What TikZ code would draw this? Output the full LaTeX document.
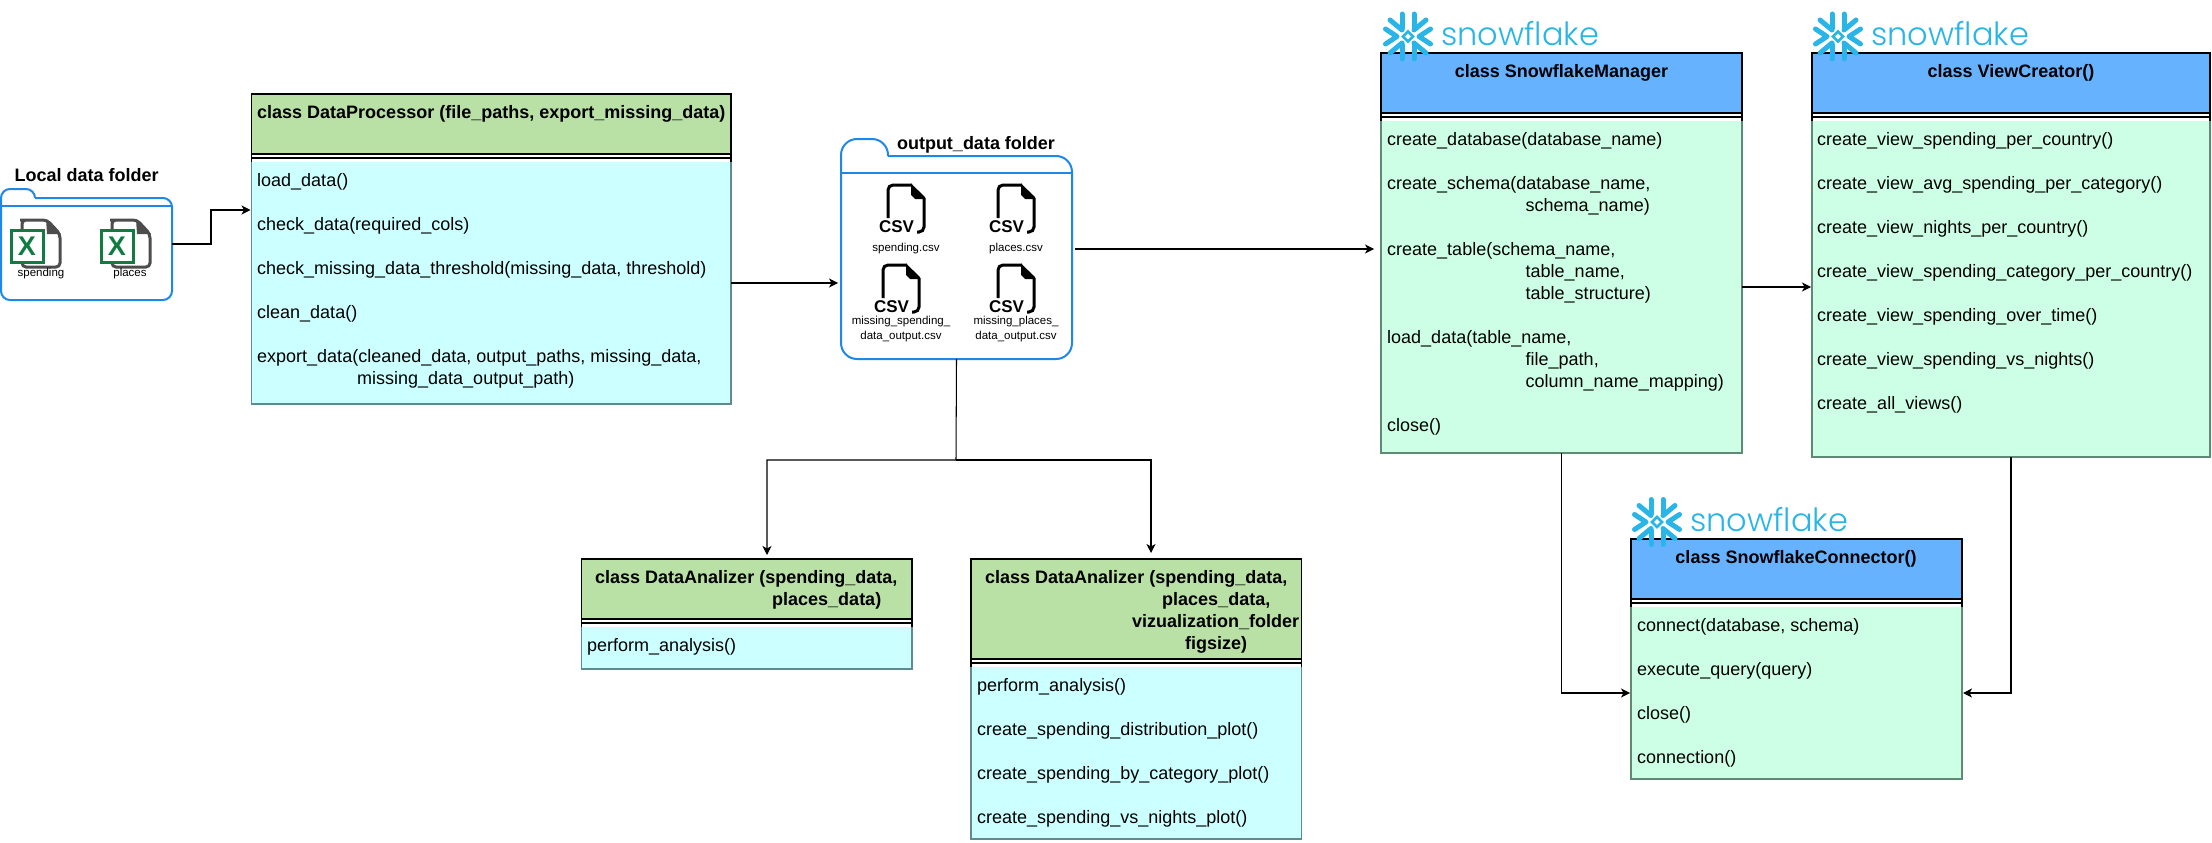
\documentclass[tikz,border=0pt]{standalone}
\usepackage{fontspec}
\setmainfont{Liberation Sans}
\newfontfamily\snowfont[UprightFont={* Light}]{Poppins}
\usetikzlibrary{arrows.meta}
\definecolor{hgreen}{HTML}{B9E0A5}
\definecolor{hblue}{HTML}{66B2FF}
\definecolor{bcyan}{HTML}{CCFFFF}
\definecolor{bmint}{HTML}{CCFFE6}
\definecolor{ecyan}{HTML}{5F8A8F}
\definecolor{emint}{HTML}{5F8A75}
\definecolor{foldblue}{HTML}{1E88E8}
\definecolor{snowblue}{HTML}{29B5E8}
\definecolor{xlgreen}{HTML}{107C41}
\definecolor{xlgray}{HTML}{4D4D4D}
\tikzset{
  x=1pt,y=-1pt,
  part/.style={rectangle,inner sep=0pt,outer sep=0pt,line width=1.2pt},
  meth/.style={font=\fontsize{18}{22}\selectfont,align=left,anchor=north west,inner sep=0pt},
  ttl/.style={font=\fontsize{18}{22}\selectfont\bfseries,align=left,anchor=north west,inner sep=0pt},
  ttlc/.style={font=\fontsize{18}{22}\selectfont\bfseries,anchor=north,inner sep=0pt},
  small/.style={font=\fontsize{11.5}{15}\selectfont,align=center,inner sep=0pt},
  conn/.style={draw=black,line width=1.05pt,-{Stealth[length=9pt,width=9pt,inset=2.5pt]}},
  folder/.style={draw=foldblue,line width=2pt},
  anchorbox/.style={rectangle,inner sep=0pt,outer sep=0pt},
  flake/.style={snowblue,line width=5pt,line cap=round},
}
% name, left, right, top, header bottom, bottom, header colour, body colour, edge colour
\newcommand\classbox[9]{%
  \node[part,draw=black,fill=#7,minimum width={(#3-#2)*1pt},minimum height={(#5-#4)*1pt}] (#1h) at ({(#2+#3)/2},{(#4+#5)/2}) {};
  \node[part,draw=black,fill=white,minimum width={(#3-#2)*1pt},minimum height=4pt] (#1s) at ({(#2+#3)/2},{#5+2}) {};
  \node[part,fill=#8,minimum width={(#3-#2)*1pt},minimum height={(#6-#5-8)*1pt}] (#1b) at ({(#2+#3)/2},{(#5+8+#6)/2}) {};
  \draw[black,line width=1.2pt] (#1s.south west) -- (#1b.north west) (#1s.south east) -- (#1b.north east);
  \draw[#9,line width=1.2pt] (#1b.north west) -- (#1b.south west) -- (#1b.south east) -- (#1b.north east);
}
\newcommand\snowlogo[3]{%
  \begin{scope}[shift={(#2,#3)}]
    \foreach \sx/\sy in {1/1,-1/1,1/-1,-1/-1}{
      \begin{scope}[xscale=\sx,yscale=\sy]
        \draw[flake] (6,-8) -- (6,-22.5);
        \draw[flake] (6,-6.5) -- (18,-16.5);
      \end{scope}
    }
    \foreach \sx in {1,-1}{
      \begin{scope}[xscale=\sx]
        \draw[flake,line join=round] (22.5,-7.5) -- (11,0) -- (22.5,7.5);
      \end{scope}
    }
    \draw[snowblue,line width=2.6pt] (0,-5) -- (5,0) -- (0,5) -- (-5,0) -- cycle;
  \end{scope}
  \node[anchor=base west,inner sep=0pt,text=snowblue,font=\snowfont\fontsize{32}{33}\selectfont] (#1) at ({#2+33},{#3+9.5}) {snowflake};
}
\newcommand\csvicon[3]{%
  \begin{scope}[shift={(#2,#3)}]
    \draw[black,line width=3pt,rounded corners=5pt] (0,33) -- (0,0) -- (24,0);
    \fill[black] (23,-1.5) -- (37,12) -- (37,14) -- (27,14) -- (23,10) -- cycle;
    \draw[black,line width=3pt,rounded corners=5pt] (36,13) -- (36,47) -- (29,47);
  \end{scope}
  \node[inner sep=0pt,font=\fontsize{17}{17}\selectfont\bfseries] (#1) at ({#2+8.5},{#3+42}) {CSV};
}
\newcommand\xlicon[3]{%
  \begin{scope}[shift={(#2,#3)}]
    \draw[xlgray,line width=3pt,rounded corners=4pt] (14,1) -- (37,1) -- (50,15) -- (50,48) -- (12,48) -- (12,1) -- cycle;
    \fill[xlgray] (36,0) -- (51,15) -- (37,15) -- cycle;
    \draw[xlgreen,fill=white,line width=3pt] (1,11) rectangle (33,43);
  \end{scope}
  \node[inner sep=0pt,text=xlgreen,font=\fontsize{27}{27}\selectfont\bfseries] (#1) at ({#2+17},{#3+27}) {X};
}
\begin{document}
\begin{tikzpicture}
\useasboundingbox (0,0) rectangle (2212,843);
% --- local data folder
\node[anchor=west,inner sep=0pt,font=\fontsize{18}{22}\selectfont\bfseries] (localt) at (14.5,175) {Local data folder};
\node[anchorbox,minimum width=171pt,minimum height=110pt] (localf) at (86.5,244) {};
\draw[folder,rounded corners=9pt] (35,198) -- (172,198) -- (172,300) -- (1,300) -- (1,189) -- (35,189) -- (35,198);
\draw[folder] (1,206) -- (172,206);
\xlicon{xl1}{10}{219}
\xlicon{xl2}{100}{219}
\node[small] (xl1l) at (41,274) {spending};
\node[small] (xl2l) at (130,274) {places};
% --- output folder
\node[anchorbox,minimum width=231pt,minimum height=220pt] (outf) at (956.5,249) {};
\draw[folder,rounded corners=16pt] (888,156) -- (1072,156) -- (1072,359) -- (841,359) -- (841,139) -- (888,139) -- (888,156);
\draw[folder] (841,173) -- (1072,173);
\node[inner sep=0pt,font=\fontsize{18}{22}\selectfont\bfseries] (outt) at (976,145) {output\_data folder};
\csvicon{csv1}{888}{185}
\csvicon{csv2}{998}{185}
\csvicon{csv3}{883}{265}
\csvicon{csv4}{998}{265}
\node[small] (csv1l) at (906,249) {spending.csv};
\node[small] (csv2l) at (1016,249) {places.csv};
\node[small] (csv3l) at (901,329.5) {missing\_spending\_\\data\_output.csv};
\node[small] (csv4l) at (1016,329.5) {missing\_places\_\\data\_output.csv};
% --- class boxes
\classbox{dp}{251.5}{731}{94}{154}{404}{hgreen}{bcyan}{ecyan}
\node[ttl] (dpt) at (257,105) {class DataProcessor (file\_paths, export\_missing\_data)};
\node[meth] (dpm) at (257,173) {load\_data()\\[22pt]
check\_data(required\_cols)\\[22pt]
check\_missing\_data\_threshold(missing\_data, threshold)\\[22pt]
clean\_data()\\[22pt]
export\_data(cleaned\_data, output\_paths, missing\_data,\\
\hspace*{100pt}missing\_data\_output\_path)};

\classbox{daa}{581.5}{912}{559}{619}{669}{hgreen}{bcyan}{ecyan}
\node[ttl] (daat) at (595,570) {class DataAnalizer (spending\_data,\\
\hspace*{177pt}places\_data)};
\node[meth] (daam) at (587,638) {perform\_analysis()};

\classbox{dab}{971}{1301.5}{559}{659}{839}{hgreen}{bcyan}{ecyan}
\node[ttl] (dabt) at (985,570) {class DataAnalizer (spending\_data,\\
\hspace*{177pt}places\_data,\\
\hspace*{147pt}vizualization\_folder\\
\hspace*{200pt}figsize)};
\node[meth] (dabm) at (977,678) {perform\_analysis()\\[22pt]
create\_spending\_distribution\_plot()\\[22pt]
create\_spending\_by\_category\_plot()\\[22pt]
create\_spending\_vs\_nights\_plot()};

\classbox{mgr}{1381}{1742}{53}{113}{453}{hblue}{bmint}{emint}
\node[ttlc] (mgrt) at (1561.5,64) {class SnowflakeManager};
\node[meth] (mgrm) at (1387,132) {create\_database(database\_name)\\[22pt]
create\_schema(database\_name,\\
\hspace*{138.5pt}schema\_name)\\[22pt]
create\_table(schema\_name,\\
\hspace*{138.5pt}table\_name,\\
\hspace*{138.5pt}table\_structure)\\[22pt]
load\_data(table\_name,\\
\hspace*{138.5pt}file\_path,\\
\hspace*{138.5pt}column\_name\_mapping)\\[22pt]
close()};

\classbox{vc}{1812}{2210}{53}{113}{457}{hblue}{bmint}{emint}
\node[ttlc] (vct) at (2011,64) {class ViewCreator()};
\node[meth] (vcm) at (1817,132) {create\_view\_spending\_per\_country()\\[22pt]
create\_view\_avg\_spending\_per\_category()\\[22pt]
create\_view\_nights\_per\_country()\\[22pt]
create\_view\_spending\_category\_per\_country()\\[22pt]
create\_view\_spending\_over\_time()\\[22pt]
create\_view\_spending\_vs\_nights()\\[22pt]
create\_all\_views()};

\classbox{con}{1631}{1962}{539}{599}{779}{hblue}{bmint}{emint}
\node[ttlc] (cont) at (1796,550) {class SnowflakeConnector()};
\node[meth] (conm) at (1637,618) {connect(database, schema)\\[22pt]
execute\_query(query)\\[22pt]
close()\\[22pt]
connection()};
% --- logos
\snowlogo{logoa}{1408}{36.5}
\snowlogo{logob}{1838}{36.5}
\snowlogo{logoc}{1657}{522}
% --- connectors
\coordinate (c1) at (211,210);
\draw[conn,shorten >=1pt] (localf.east) -| (c1) -- (dpb.west |- c1);
\draw[conn,shorten >=3pt] (dpb.east) -- (outf.west |- dpb.east);
\draw[conn,shorten <=3pt,shorten >=7pt] (outf.east) -- (mgrb.west |- outf.east);
\draw[conn,shorten >=1pt] (mgrb.east) -- (vcb.west |- mgrb.east);
\coordinate (j) at (956,460);
\coordinate (a1) at (767,460);
\coordinate (a2) at (1151,460);
\draw[conn,shorten >=4pt] (outf.south) -- (j) -- (a1) -- (a1 |- daah.north);
\draw[conn,shorten >=6pt] (j) -- (a2) -- (a2 |- dabh.north);
\draw[conn,shorten >=1pt] (mgrb.south) |- (conb.west);
\draw[conn,shorten >=1pt] (vcb.south) |- (conb.east);
\end{tikzpicture}
\end{document}
